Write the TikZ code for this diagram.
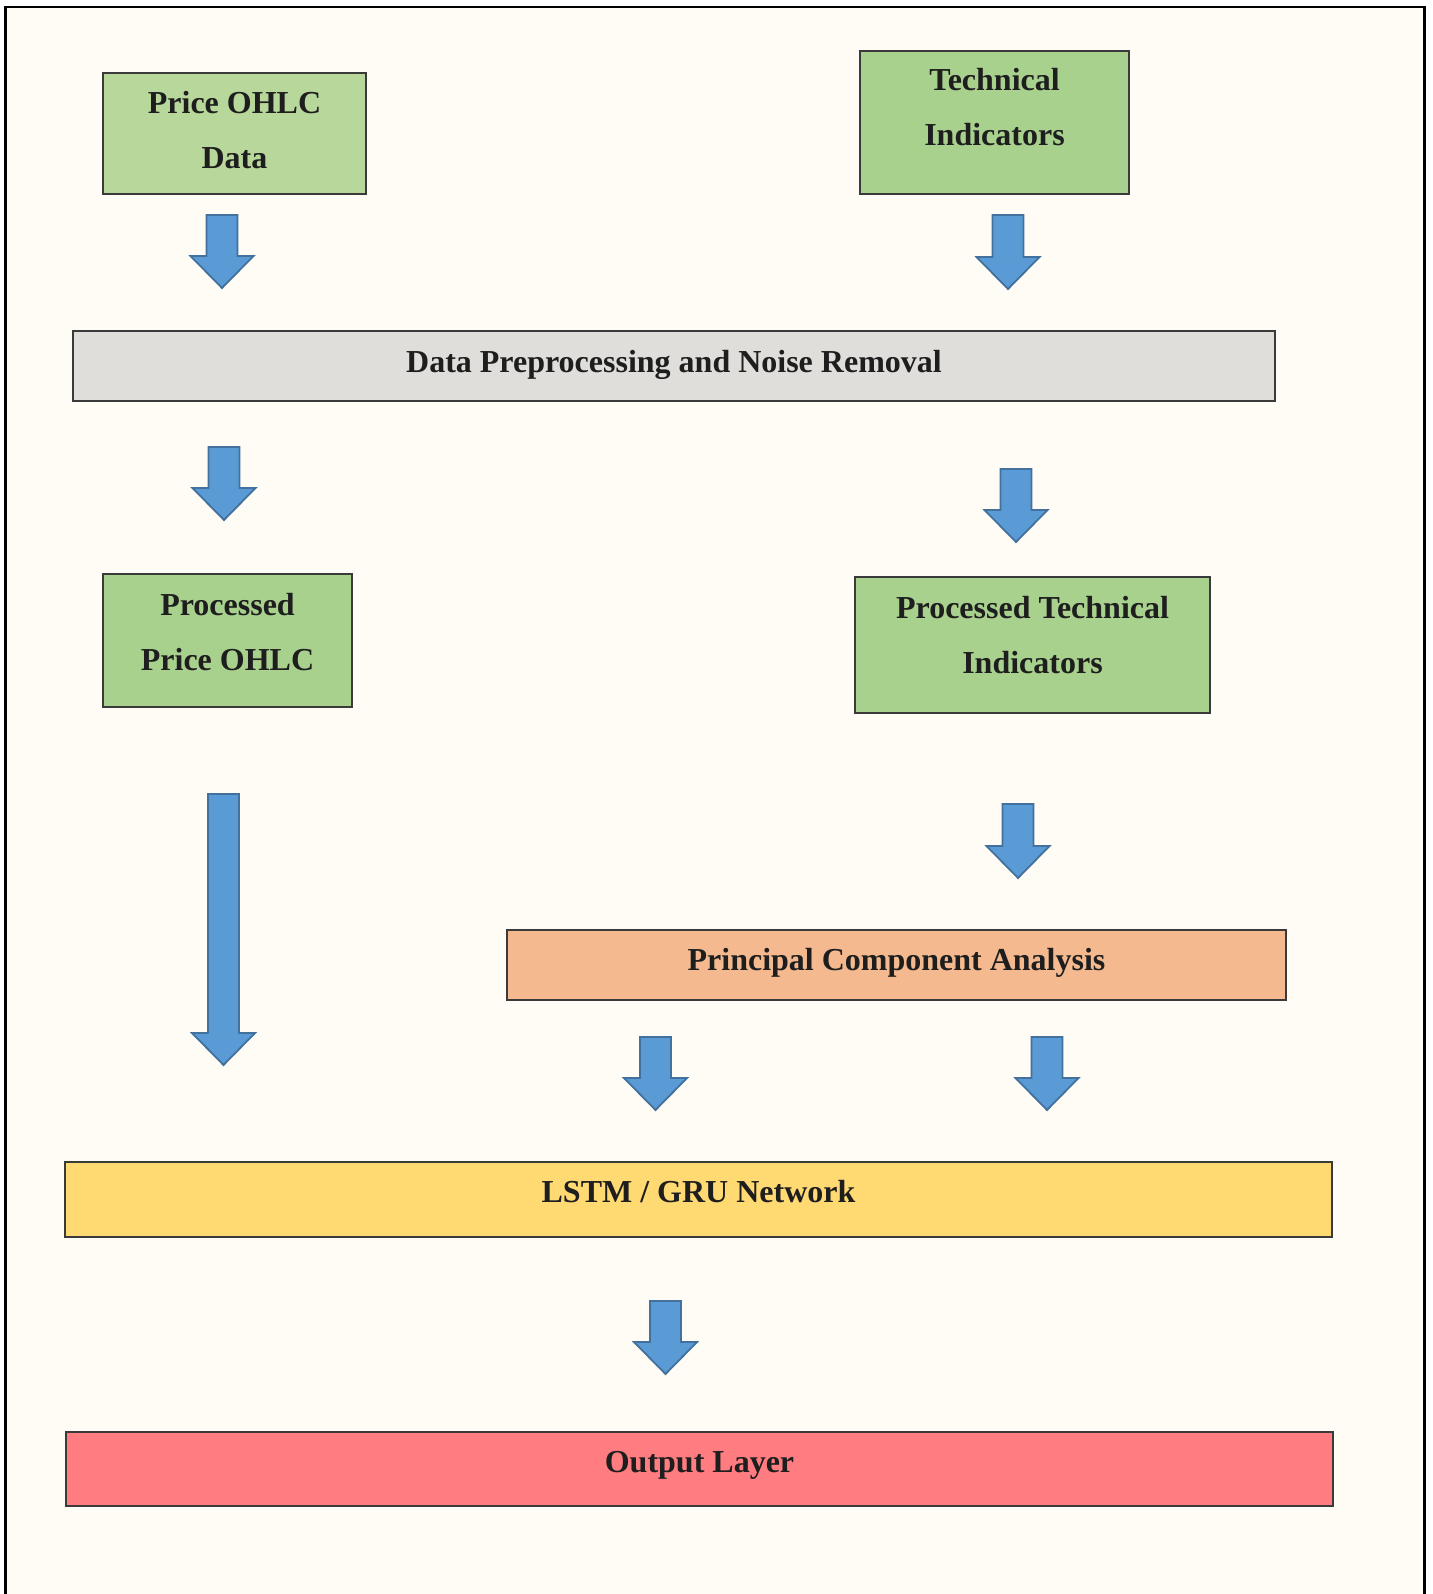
\documentclass[tikz,border=0pt]{standalone}
\usepackage{fontspec}
\setmainfont{Liberation Serif}
\usepackage{tikz}
\definecolor{flowbg}{HTML}{FFFBF5}
\definecolor{flowline}{HTML}{3A3A3A}
\definecolor{flowtext}{HTML}{1E1E1E}
\definecolor{rawgreen}{HTML}{B8D89B}
\definecolor{procgreen}{HTML}{A9D18E}
\definecolor{prepgray}{HTML}{DFDEDA}
\definecolor{pcaorange}{HTML}{F4B98E}
\definecolor{rnnyellow}{HTML}{FFD971}
\definecolor{outred}{HTML}{FF7C80}
\definecolor{arrowfill}{HTML}{5B9BD5}
\definecolor{arrowline}{HTML}{41719C}
\tikzset{
  flowbox/.style={
    draw=flowline,
    line width=1.4pt,
    rectangle,
    inner sep=0pt
  },
  rawbox/.style={flowbox,fill=rawgreen},
  procbox/.style={flowbox,fill=procgreen},
  prepbox/.style={flowbox,fill=prepgray},
  pcabox/.style={flowbox,fill=pcaorange},
  rnnbox/.style={flowbox,fill=rnnyellow},
  outbox/.style={flowbox,fill=outred},
  boxtext/.style={font=\bfseries\fontsize{32}{55}\selectfont,text=flowtext,
                  align=center,inner sep=0pt},
  flowarrow/.style={fill=arrowfill,draw=arrowline,line width=1.8pt,line join=miter}
}

\begin{document}
\begin{tikzpicture}[x=1pt,y=-1pt]
  \useasboundingbox (0,0) rectangle (1432,1594);
  \fill[white] (0,0) rectangle (1432,1594);
  \clip (0,0) rectangle (1432,1594);
  \draw[line width=2.5pt,fill=flowbg] (5.5,7) rectangle (1424.5,1640);

  \node[rawbox,minimum width=263pt,minimum height=121pt,
    label={[boxtext,yshift=3.5pt]center:{Price OHLC\\Data}}] (price) at (234.5,133.5) {};
  \node[procbox,minimum width=269pt,minimum height=143pt,
    label={[boxtext,yshift=15pt]center:{Technical\\Indicators}}] (tech) at (994.5,122.5) {};

  \node[prepbox,minimum width=1202pt,minimum height=70pt,
    label={[boxtext,yshift=1.5pt]center:{Data Preprocessing and Noise Removal}}] (prep) at (674,366) {};

  \node[procbox,minimum width=249pt,minimum height=133pt,
    label={[boxtext,yshift=8.5pt]center:{Processed\\Price OHLC}}] (procprice) at (227.5,640.5) {};
  \node[procbox,minimum width=355pt,minimum height=136pt,
    label={[boxtext,yshift=9.5pt]center:{Processed Technical\\Indicators}}] (proctech) at (1032.5,645) {};

  \node[pcabox,minimum width=779pt,minimum height=70pt,
    label={[boxtext,yshift=2.5pt]center:{Principal Component Analysis}}] (pca) at (896.5,965) {};

  \node[rnnbox,minimum width=1267pt,minimum height=75pt,
    label={[boxtext,yshift=7.5pt]center:{LSTM / GRU Network}}] (rnn) at (698.5,1199.5) {};

  \node[outbox,minimum width=1267pt,minimum height=74pt,
    label={[boxtext,yshift=4pt]center:{Output Layer}}] (output) at (699.5,1469) {};

  \foreach \ax/\ay/\az in {222/215/288,1008/215/289,224/447/520,1016/469/542,
                           223.5/794/1065,1018/804/878,655.5/1037/1110,
                           1047/1037/1110,665.5/1301/1374}{
    \draw[flowarrow] (\ax-15.5,\ay) -- (\ax+15.5,\ay) -- (\ax+15.5,\az-32)
      -- (\ax+31.5,\az-32) -- (\ax,\az) -- (\ax-31.5,\az-32) -- (\ax-15.5,\az-32) -- cycle;
  }
\end{tikzpicture}
\end{document}
